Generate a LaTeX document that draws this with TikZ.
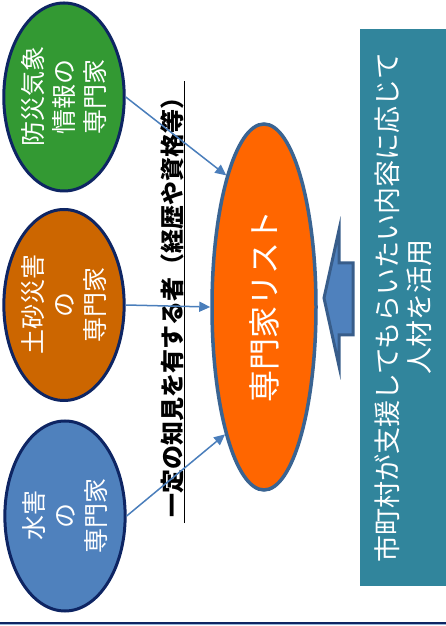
\documentclass[tikz,border=0pt]{standalone}
\usepackage{fontspec}
\setmainfont{Noto Sans CJK JP}
\usetikzlibrary{shapes.geometric,arrows.meta}

\definecolor{kishogreen}{HTML}{339933}
\definecolor{dosyabrown}{HTML}{CC6600}
\definecolor{suigaiblue}{HTML}{4F81BD}
\definecolor{listorange}{HTML}{FF6600}
\definecolor{expertborder}{HTML}{0E2563}
\definecolor{listborder}{HTML}{3A6492}
\definecolor{linkblue}{HTML}{4A7EBB}
\definecolor{boxteal}{HTML}{31859C}
\definecolor{arrowborder}{HTML}{385D8A}

\begin{document}
\begin{tikzpicture}[x=1pt,y=1pt,
                    expert node/.style={ellipse,draw=expertborder,line width=3pt,inner sep=0pt,
                      text=white,align=center,font=\fontsize{25}{31}\selectfont},
                    list node/.style={ellipse,draw=listborder,line width=3.5pt,fill=listorange,
                      inner sep=0pt,text=white,font=\fontsize{32}{32}\selectfont},
                    link/.style={-{Triangle[length=11pt,width=10pt]},draw=linkblue,fill=linkblue,line width=1.5pt}]

  \useasboundingbox (0,0) rectangle (446,626);

  % the slide is turned a quarter to the left
  \begin{scope}[shift={(446,0)},rotate=90,transform shape]
    \node[expert node,fill=kishogreen,minimum width=188,minimum height=102] (kisho) at (529,382)
      {防災気象\\情報の\\専門家};
    \node[expert node,fill=dosyabrown,minimum width=191,minimum height=102] (dosya) at (321,382)
      {土砂災害\\の\\専門家};
    \node[expert node,fill=suigaiblue,minimum width=190,minimum height=102] (suigai) at (110,381)
      {水害\\の\\専門家};

    \node[list node,minimum width=366,minimum height=104] (list) at (319,182) {専門家リスト};

    \node[inner xsep=5pt,inner ysep=1pt,font=\bfseries\fontsize{24}{24}\selectfont] (title) at (324,274)
      {一定の知見を有する者（経歴や資格等）};
    \draw[line width=1pt] (title.south west) -- (title.south east);

    \path (kisho.south) edge[link] (list.16.5)
          (dosya.south) edge[link] (list.north)
          (suigai.south) edge[link] (list.163.5);

    \node[fill=boxteal,minimum width=557,minimum height=86,inner sep=0pt,text=white,align=center,
          font=\fontsize{27}{32}\selectfont] (shien) at (318.5,43)
      {市町村が支援してもらいたい内容に応じて\\人材を活用};

    % block arrow from the box up to the list
    \draw[fill=suigaiblue,draw=arrowborder,line width=3pt,line join=miter]
      (328,122) -- (396,107) -- (363,107) -- (363,93) -- (291,93) -- (291,107) -- (260,107) -- cycle;
  \end{scope}

  \draw[line width=1.5pt,draw=expertborder] (0,3) -- (446,3);
  \draw[line width=1pt,draw=suigaiblue!60] (0,1.5) -- (446,1.5);
\end{tikzpicture}
\end{document}
